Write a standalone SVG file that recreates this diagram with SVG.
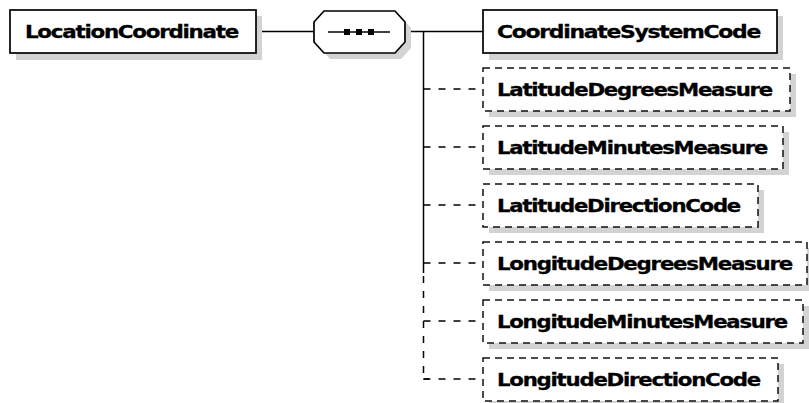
<svg xmlns="http://www.w3.org/2000/svg" width="809" height="403" viewBox="0 0 809 403">
<style>
.sh{fill:#d3d3d3;stroke:none}
.bs{fill:#fff;stroke:#000;stroke-width:1.7}
.bd{fill:#fff;stroke:#111;stroke-width:1.5;stroke-dasharray:7,5}
.t{font-family:"DejaVu Sans","Verdana",sans-serif;font-weight:bold;font-size:17px;fill:#000;stroke:#000;stroke-width:0.3;letter-spacing:-1px}
.c{fill:none;stroke:#000;stroke-width:1.5}
.cd{fill:none;stroke:#000;stroke-width:1.5;stroke-dasharray:7,8}
</style>
<rect width="809" height="403" fill="#fff"/>
<g id="connectors">
<line class="c" x1="256" y1="31.5" x2="314" y2="31.5"/>
<line class="c" x1="405" y1="31.5" x2="483" y2="31.5"/>
<line class="c" x1="423.5" y1="31.5" x2="423.5" y2="273"/>
<line class="cd" x1="423.5" y1="276" x2="423.5" y2="379" stroke-dasharray="7,5"/>
<line class="c" x1="423.5" y1="379" x2="429" y2="379"/>
<line class="cd" x1="423.5" y1="89" x2="483" y2="89"/>
<line class="cd" x1="423.5" y1="147" x2="483" y2="147"/>
<line class="cd" x1="423.5" y1="205" x2="483" y2="205"/>
<line class="cd" x1="423.5" y1="263" x2="483" y2="263"/>
<line class="cd" x1="423.5" y1="321" x2="483" y2="321"/>
<line class="cd" x1="423.5" y1="379" x2="483" y2="379"/>
</g>
<g id="LocationCoordinate">
<rect class="sh" x="16" y="16" width="246" height="44"/>
<rect class="bs" x="10" y="10" width="246" height="43"/>
<text class="t" x="25" y="38" textLength="213" lengthAdjust="spacingAndGlyphs">LocationCoordinate</text>
</g>
<g id="sequence">
<polygon class="sh" points="330,17 401,17 411,28 411,48 401,59 330,59 320,48 320,28"/>
<polygon class="bs" points="324,11 395,11 405,22 405,42 395,53 324,53 314,42 314,22"/>
<line class="c" x1="328" y1="32" x2="390" y2="32"/>
<rect x="344" y="29" width="6" height="6" fill="#000"/>
<rect x="356" y="29" width="6" height="6" fill="#000"/>
<rect x="368" y="29" width="6" height="6" fill="#000"/>
</g>
<g id="CoordinateSystemCode">
<rect class="sh" x="489" y="16" width="294" height="44"/>
<rect class="bs" x="483" y="10" width="294" height="43"/>
<text class="t" x="497" y="38" textLength="263" lengthAdjust="spacingAndGlyphs">CoordinateSystemCode</text>
</g>
<g id="LatitudeDegreesMeasure">
<rect class="sh" x="489" y="74" width="307" height="43"/>
<rect class="bd" x="483" y="68" width="307" height="43"/>
<text class="t" x="497" y="96" textLength="275" lengthAdjust="spacingAndGlyphs">LatitudeDegreesMeasure</text>
</g>
<g id="LatitudeMinutesMeasure">
<rect class="sh" x="489" y="132" width="300" height="43"/>
<rect class="bd" x="483" y="126" width="300" height="43"/>
<text class="t" x="497" y="154" textLength="270" lengthAdjust="spacingAndGlyphs">LatitudeMinutesMeasure</text>
</g>
<g id="LatitudeDirectionCode">
<rect class="sh" x="489" y="190" width="275" height="43"/>
<rect class="bd" x="483" y="184" width="275" height="43"/>
<text class="t" x="497" y="212" textLength="243" lengthAdjust="spacingAndGlyphs">LatitudeDirectionCode</text>
</g>
<g id="LongitudeDegreesMeasure">
<rect class="sh" x="489" y="248" width="324" height="43"/>
<rect class="bd" x="483" y="242" width="324" height="43"/>
<text class="t" x="497" y="270" textLength="295" lengthAdjust="spacingAndGlyphs">LongitudeDegreesMeasure</text>
</g>
<g id="LongitudeMinutesMeasure">
<rect class="sh" x="489" y="306" width="320" height="43"/>
<rect class="bd" x="483" y="300" width="320" height="43"/>
<text class="t" x="497" y="328" textLength="290" lengthAdjust="spacingAndGlyphs">LongitudeMinutesMeasure</text>
</g>
<g id="LongitudeDirectionCode">
<rect class="sh" x="489" y="364" width="295" height="43"/>
<rect class="bd" x="483" y="358" width="295" height="43"/>
<text class="t" x="497" y="386" textLength="263" lengthAdjust="spacingAndGlyphs">LongitudeDirectionCode</text>
</g>
</svg>
